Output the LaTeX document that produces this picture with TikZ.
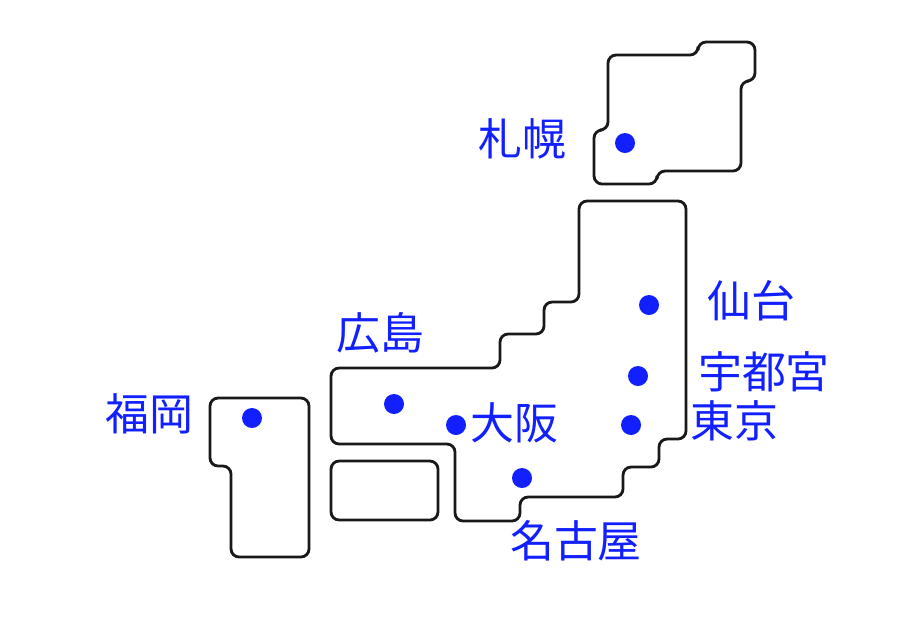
\documentclass[tikz,border=0pt]{standalone}
\usepackage{fontspec}
\setmainfont{Noto Sans CJK JP}
\definecolor{cityblue}{RGB}{18,32,255}
\tikzset{
  island/.style={draw=black!90, line width=1.6pt, rounded corners=4.6pt},
  citydot/.style={circle, fill=cityblue, inner sep=0pt, minimum size=0.4cm},
  citylabel/.style={text=cityblue, inner sep=0pt, font=\fontsize{25}{28}\selectfont}
}
\begin{document}
\begin{tikzpicture}[x=0.02cm, y=-0.02cm]
      \useasboundingbox (0,0) rectangle (911,627);
      \draw[island] (608,55) -- (698,55) -- (698,42) -- (755,42) -- (755,81) -- (741,81) -- (741,171) -- (657,171) -- (657,184) -- (594,184) -- (594,130) -- (608,130) -- cycle; % Hokkaido
      \draw[island] (579,201) -- (686,201) -- (686,439) -- (659,439) -- (659,467) -- (623,467) -- (623,497) -- (520,497) -- (520,521) -- (455,521) -- (455,444) -- (331,444) -- (331,368) -- (500,368) -- (500,334) -- (544,334) -- (544,302) -- (579,302) -- cycle; % Honshu
      \draw[island] (331,461) -- (438,461) -- (438,520) -- (331,520) -- cycle; % Shikoku
      \draw[island] (210,398) -- (309,398) -- (309,557) -- (231,557) -- (231,466) -- (210,466) -- cycle; % Kyushu
      \node[citydot] (sapporo) at (625,143) {};
      \node[citydot] (sendai) at (649,305) {};
      \node[citydot] (utsunomiya) at (638,376) {};
      \node[citydot] (tokyo) at (631,425) {};
      \node[citydot] (nagoya) at (522,478) {};
      \node[citydot] (osaka) at (456,425) {};
      \node[citydot] (hiroshima) at (394,404) {};
      \node[citydot] (fukuoka) at (252,418) {};
      \node[citylabel] (sapporolabel) at (522,139) {札幌};
      \node[citylabel] (sendailabel) at (751,301) {仙台};
      \node[citylabel] (utsunomiyalabel) at (764,372) {宇都宮};
      \node[citylabel] (tokyolabel) at (734,421) {東京};
      \node[citylabel] (nagoyalabel) at (576,541) {名古屋};
      \node[citylabel] (osakalabel) at (514,423) {大阪};
      \node[citylabel] (hiroshimalabel) at (380,333) {広島};
      \node[citylabel] (fukuokalabel) at (149,414) {福岡};
  \end{tikzpicture}
\end{document}
